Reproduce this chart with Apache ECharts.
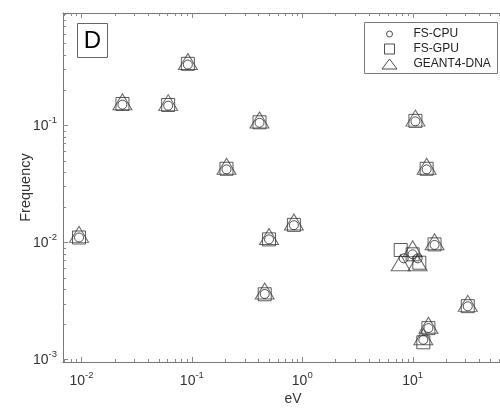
<!DOCTYPE html>
<html><head><meta charset="utf-8">
<script src="https://cdn.jsdelivr.net/npm/echarts@6/dist/echarts.min.js"></script>
<style>html,body{margin:0;padding:0;background:#fff}#c{width:500px;height:410px}</style>
</head><body><div id="c"></div>
<script>
const seriesNames = ['FS-CPU', 'FS-GPU', 'GEANT4-DNA'];
const cpuEnergy = [0.0095, 0.0235, 0.061, 0.092, 0.206, 0.41, 0.457, 0.50, 0.84, 8.3, 10.0, 11.1, 10.6, 12.5, 13.4, 13.9, 15.8, 31.6];
const cpuFreq   = [0.011, 0.150, 0.147, 0.33, 0.042, 0.105, 0.00362, 0.0106, 0.0140, 0.0073, 0.0079, 0.0073, 0.108, 0.00147, 0.042, 0.00185, 0.0095, 0.00284];
const gpuEnergy = [0.0095, 0.0235, 0.061, 0.092, 0.206, 0.41, 0.457, 0.50, 0.84, 7.8, 10.0, 11.5, 10.6, 12.5, 13.4, 13.9, 15.8, 31.6];
const gpuFreq   = [0.011, 0.152, 0.149, 0.335, 0.0425, 0.106, 0.0036, 0.0106, 0.0141, 0.0086, 0.0079, 0.0067, 0.109, 0.0014, 0.0425, 0.00185, 0.0096, 0.00285];
const g4Energy  = [0.0095, 0.0235, 0.061, 0.092, 0.206, 0.41, 0.457, 0.50, 0.84, 7.8, 10.0, 11.1, 10.6, 12.5, 13.4, 13.9, 15.8, 31.6];
const g4Freq    = [0.0117, 0.159, 0.156, 0.35, 0.0446, 0.111, 0.00384, 0.0112, 0.0149, 0.0067, 0.0088, 0.0067, 0.115, 0.00156, 0.0446, 0.00196, 0.0101, 0.00301];
const xTickExponents = [-2, -1, 0, 1];
const yTickExponents = [-3, -2, -1];
const panelLabel = 'D';
const xAxisName = 'eV';
const yAxisName = 'Frequency';

const xMin = 0.0068, xMax = 100, yMin = 0.00095, yMax = 0.91;
const FONT = 'Liberation Sans, Arial, Helvetica, sans-serif';
const AXIS_COLOR = '#777';

function pair(a, b) { return a.map((v, i) => [v, b[i]]); }

function powLabel(exps) {
  return function (v) {
    const e = Math.log10(v);
    const r = Math.round(e);
    if (Math.abs(e - r) > 1e-6 || exps.indexOf(r) < 0) return '';
    return '{b|10}{s|' + r + '}';
  };
}
const labelRich = {
  b: { fontSize: 14, fontFamily: FONT, color: '#333', lineHeight: 16, verticalAlign: 'bottom' },
  s: { fontSize: 9.5, fontFamily: FONT, color: '#333', lineHeight: 10, verticalAlign: 'bottom', padding: [0, 0, 8, 0] }
};

function tickRender(params, api) {
  const tl = api.coord([xMin, yMax]);
  const br = api.coord([xMax, yMin]);
  const left = tl[0], top = tl[1], right = br[0], bottom = br[1];
  const kids = [];
  const st = { stroke: '#888', lineWidth: 1 };
  function ln(x1, y1, x2, y2) {
    kids.push({ type: 'line', shape: { x1: x1, y1: y1, x2: x2, y2: y2 }, style: st, silent: true });
  }
  for (let e = -4; e <= 2; e++) {
    for (let k = 1; k <= 9; k++) {
      const v = k * Math.pow(10, e);
      const len = k === 1 ? 5 : 3;
      if (v > xMin && v < xMax) {
        const x = Math.round(api.coord([v, yMin])[0]) + 0.5;
        ln(x, bottom, x, bottom - len);
        ln(x, top, x, top + len);
      }
      if (v > yMin && v < yMax) {
        const y = Math.round(api.coord([xMin, v])[1]) + 0.5;
        ln(left, y, left + len, y);
        ln(right, y, right - len, y);
      }
    }
  }
  return { type: 'group', children: kids };
}

const markerStyle = (c) => ({ color: 'rgba(0,0,0,0)', borderColor: c, borderWidth: 1 });

// icon centre at x=389, text starts at x=413
function legendFor(name, icon, top, w, h) {
  const left = 389 - w / 2;
  const pad = 413 - (left + w + 5);
  return {
    data: [{ name: name, icon: icon }],
    left: left, top: top, orient: 'vertical', padding: 0,
    itemWidth: w, itemHeight: h, itemGap: 0, selectedMode: false, z: 6,
    textStyle: { fontSize: 12, fontFamily: FONT, color: '#222', padding: [0, 0, 0, pad] },
    itemStyle: { color: 'rgba(0,0,0,0)', borderColor: '#222', borderWidth: 1 }
  };
}

const chart = echarts.init(document.getElementById('c'), null, { renderer: 'canvas' });
chart.setOption({
  animation: false,
  backgroundColor: '#fff',
  grid: { left: 63, top: 13, width: 460, height: 349, containLabel: false, outerBoundsMode: 'none' },
  xAxis: [{
    type: 'log', min: xMin, max: xMax, logBase: 10,
    name: xAxisName, nameLocation: 'middle', nameGap: 30, nameMoveOverlap: false,
    nameTextStyle: { fontSize: 14, fontFamily: FONT, color: '#333' },
    axisLine: { show: true, lineStyle: { color: AXIS_COLOR } },
    axisTick: { show: false }, splitLine: { show: false }, minorTick: { show: false },
    axisLabel: { formatter: powLabel(xTickExponents), rich: labelRich, margin: 10, showMinLabel: false, showMaxLabel: false }
  }, {
    type: 'log', min: xMin, max: xMax, position: 'top',
    axisLine: { show: true, lineStyle: { color: AXIS_COLOR } },
    axisTick: { show: false }, axisLabel: { show: false }, splitLine: { show: false }
  }],
  yAxis: [{
    type: 'log', min: yMin, max: yMax, logBase: 10,
    name: yAxisName, nameLocation: 'middle', nameGap: 30, nameRotate: 90, nameMoveOverlap: false,
    nameTextStyle: { fontSize: 14.5, fontFamily: FONT, color: '#333' },
    axisLine: { show: true, lineStyle: { color: AXIS_COLOR } },
    axisTick: { show: false }, splitLine: { show: false }, minorTick: { show: false },
    axisLabel: { formatter: powLabel(yTickExponents), rich: labelRich, margin: 6, showMinLabel: true, showMaxLabel: false }
  }, {
    type: 'log', min: yMin, max: yMax, position: 'right',
    axisLine: { show: true, lineStyle: { color: AXIS_COLOR } },
    axisTick: { show: false }, axisLabel: { show: false }, splitLine: { show: false }
  }],
  legend: [
    legendFor(seriesNames[0], 'circle', 28, 6, 6),
    legendFor(seriesNames[1], 'path://M0 0 L10 0 L10 10 L0 10 Z', 43, 10, 10),
    legendFor(seriesNames[2], 'path://M7.5 0 L15 10 L0 10 Z', 58, 15, 10)
  ],
  graphic: [
    { type: 'rect', z: 3, shape: { x: 364.5, y: 22.5, width: 133, height: 51 }, style: { fill: '#fff', stroke: '#777', lineWidth: 1 } },
    { type: 'rect', z: 3, shape: { x: 77.5, y: 23.5, width: 30, height: 34 }, style: { fill: '#fff', stroke: '#666', lineWidth: 1 } },
    { type: 'text', z: 4, x: 92.5, y: 41, style: { text: panelLabel, font: '24px ' + FONT, fill: '#000', textAlign: 'center', textVerticalAlign: 'middle' } }
  ],
  series: [
    { type: 'custom', silent: true, clip: false, z: 1, data: [[1, 0.01]], renderItem: tickRender, xAxisIndex: 0, yAxisIndex: 0 },
    { name: seriesNames[0], type: 'scatter', symbol: 'circle', symbolSize: 9, data: pair(cpuEnergy, cpuFreq), itemStyle: markerStyle('#222'), emphasis: { disabled: true }, z: 4 },
    { name: seriesNames[1], type: 'scatter', symbol: 'rect', symbolSize: 13, data: pair(gpuEnergy, gpuFreq), itemStyle: markerStyle('#333'), emphasis: { disabled: true }, z: 3 },
    { name: seriesNames[2], type: 'scatter', symbol: 'triangle', symbolSize: [19, 16], data: pair(g4Energy, g4Freq), itemStyle: markerStyle('#444'), emphasis: { disabled: true }, z: 2 }
  ]
});
</script>
</body></html>
